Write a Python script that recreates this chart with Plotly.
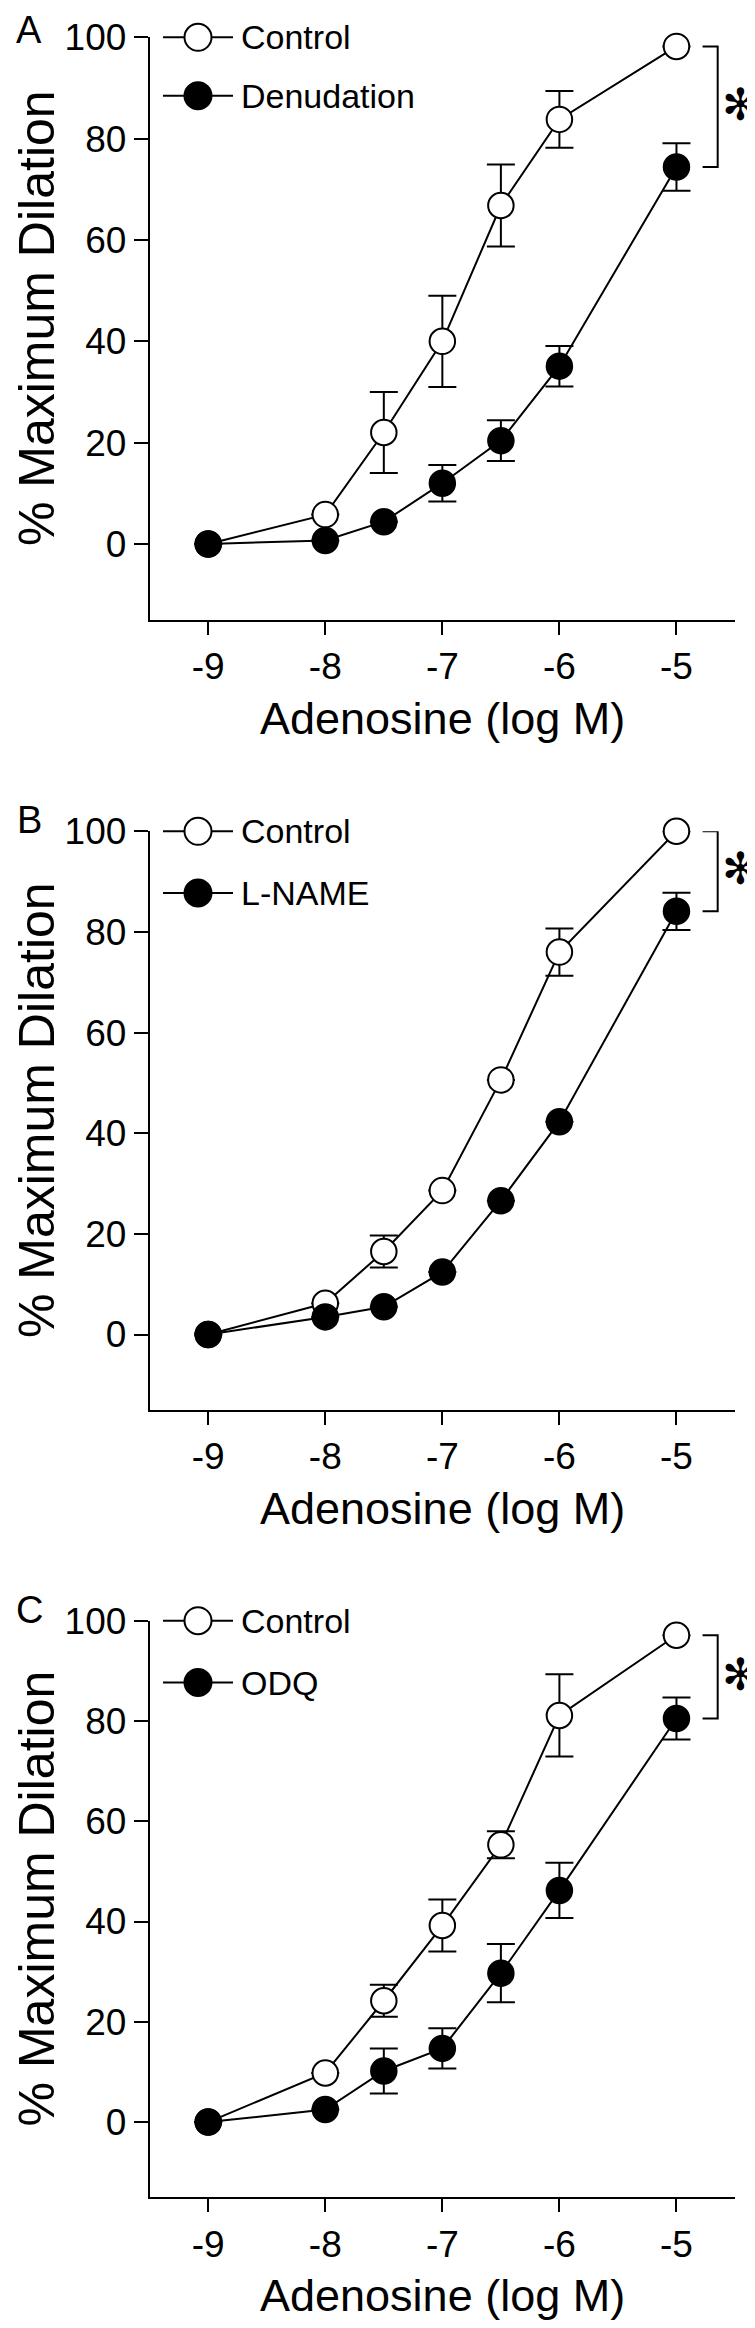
import plotly.graph_objects as go

# ---------------- data ----------------
doses = [-9, -8, -7.5, -7, -6.5, -6, -5]
x_ticks = [-9, -8, -7, -6, -5]
x_ticktext = ["-9", "-8", "-7", "-6", "-5"]
y_ticks = [0, 20, 40, 60, 80, 100]

panel_labels = ["A", "B", "C"]
treat_names = ["Denudation", "L-NAME", "ODQ"]

control_A = [0, 5.8, 22.0, 40.0, 66.8, 83.8, 98.2]
control_A_err = [None, None, 8.0, 9.0, 8.1, 5.6, None]
denud_A = [0, 0.7, 4.4, 12.0, 20.4, 35.1, 74.4]
denud_A_err = [None, None, None, 3.6, 4.0, 4.0, 4.7]

control_B = [0, 6.2, 16.5, 28.6, 50.6, 76.0, 100.0]
control_B_err = [None, None, 3.2, None, None, 4.7, None]
lname_B = [0, 3.5, 5.5, 12.4, 26.6, 42.3, 84.1]
lname_B_err = [None, None, None, None, None, None, 3.7]

control_C = [0, 9.8, 24.2, 39.2, 55.3, 81.1, 97.1]
control_C_err = [None, None, 3.2, 5.2, 2.7, 8.2, None]
odq_C = [0, 2.5, 10.2, 14.7, 29.7, 46.2, 80.5]
odq_C_err = [None, None, 4.5, 4.0, 5.8, 5.5, 4.2]

controls = [control_A, control_B, control_C]
controls_err = [control_A_err, control_B_err, control_C_err]
treats = [denud_A, lname_B, odq_C]
treats_err = [denud_A_err, lname_B_err, odq_C_err]

# ---------------- layout geometry (pixels) ----------------
W, H = 755, 2328
FONT = "Liberation Sans, Arial, sans-serif"
plot_left, plot_right = 141.7, 727.0
panel_top = [29.3, 823.3, 1612.7]
panel_bot = [612.0, 1402.0, 2189.3]
legend_dy2 = [58.5, 61.6, 61.8]


def px(x):
    return x / W


def py(y):
    return 1 - y / H


fig = go.Figure()
shapes = []
annotations = []

for i in range(3):
    sfx = "" if i == 0 else str(i + 1)
    xa, ya = "x" + sfx, "y" + sfx
    top, bot = panel_top[i], panel_bot[i]

    # control (open circles)
    fig.add_trace(go.Scatter(
        x=doses, y=controls[i], xaxis=xa, yaxis=ya, mode="lines+markers",
        line=dict(color="black", width=2),
        marker=dict(size=25.5, color="white", line=dict(color="black", width=2)),
        error_y=dict(type="data", array=controls_err[i], visible=True,
                     color="black", thickness=2, width=14),
        cliponaxis=False, showlegend=False))
    # treatment (filled circles)
    fig.add_trace(go.Scatter(
        x=doses, y=treats[i], xaxis=xa, yaxis=ya, mode="lines+markers",
        line=dict(color="black", width=2),
        marker=dict(size=25.5, color="black", line=dict(color="black", width=2)),
        error_y=dict(type="data", array=treats_err[i], visible=True,
                     color="black", thickness=2, width=14),
        cliponaxis=False, showlegend=False))

    dom_y = [py(bot), py(top)]
    fig.update_layout(**{
        "xaxis" + sfx: dict(
            domain=[px(plot_left), px(plot_right)], anchor=ya, automargin=False,
            range=[-9.5, -4.5], tickvals=x_ticks, ticktext=x_ticktext,
            showline=True, linecolor="black", linewidth=2,
            ticks="outside", ticklen=13, tickwidth=2, tickcolor="black",
            showgrid=False, zeroline=False,
            tickfont=dict(family=FONT, size=37, color="black")),
        "yaxis" + sfx: dict(
            domain=dom_y, anchor=xa, range=[-15, 100], tickvals=y_ticks,
            automargin=False,
            showline=True, linecolor="black", linewidth=2,
            ticks="outside", ticklen=14, tickwidth=2, tickcolor="black",
            showgrid=False, zeroline=False,
            tickfont=dict(family=FONT, size=37, color="black")),
    })

    # significance bracket
    y1, y2 = controls[i][-1], treats[i][-1]
    shapes.append(dict(type="path", xref=xa, yref=ya,
                       path=f"M -4.777,{y1} L -4.648,{y1} L -4.648,{y2} L -4.777,{y2}",
                       line=dict(color="black", width=2)))
    annotations.append(dict(xref="paper", yref=ya, x=px(732), y=(y1 + y2) / 2 + 0.5,
                            text="\u273B", showarrow=False, borderpad=0,
                            font=dict(family="DejaVu Sans", size=44, color="black"),
                            xanchor="center", yanchor="middle"))

    # legend (manual)
    for k, (dy, fill, name) in enumerate([(0, "white", "Control"),
                                          (legend_dy2[i], "black", treat_names[i])]):
        ly = top + dy
        shapes.append(dict(type="line", xref="paper", yref="paper",
                           x0=px(155), x1=px(225), y0=py(ly), y1=py(ly),
                           line=dict(color="black", width=2)))
        shapes.append(dict(type="circle", xref="paper", yref="paper",
                           x0=px(190 - 13.5), x1=px(190 + 13.5),
                           y0=py(ly + 13.5), y1=py(ly - 13.5),
                           fillcolor=fill, line=dict(color="black", width=2)))
        annotations.append(dict(xref="paper", yref="paper", x=px(231), y=py(ly),
                                text=name, showarrow=False, xanchor="left",
                                yanchor="middle",
                                font=dict(family=FONT, size=34, color="black")))

    # panel label
    annotations.append(dict(xref="paper", yref="paper", x=px(21),
                            y=py(max(top - 33, 0)),
                            text=panel_labels[i], showarrow=False, borderpad=0,
                            xanchor="center", yanchor="top",
                            font=dict(family=FONT, size=38, color="black")))
    # y title
    annotations.append(dict(xref="paper", yref="paper", x=px(29),
                            y=py((top + bot) / 2 - 10.6),
                            text="% Maximum Dilation", textangle=-90,
                            showarrow=False, xanchor="center", yanchor="middle",
                            font=dict(family=FONT, size=50, color="black")))
    # x title
    annotations.append(dict(xref="paper", yref="paper",
                            x=px((plot_left + plot_right) / 2), y=py(bot + 98),
                            text="Adenosine (log M)", showarrow=False,
                            xanchor="center", yanchor="middle",
                            font=dict(family=FONT, size=45, color="black")))

fig.update_layout(width=W, height=H,
                  margin=dict(l=0, r=0, t=0, b=0, autoexpand=False),
                  paper_bgcolor="white", plot_bgcolor="white",
                  shapes=shapes, annotations=annotations, showlegend=False)

fig.write_html("out.html")
